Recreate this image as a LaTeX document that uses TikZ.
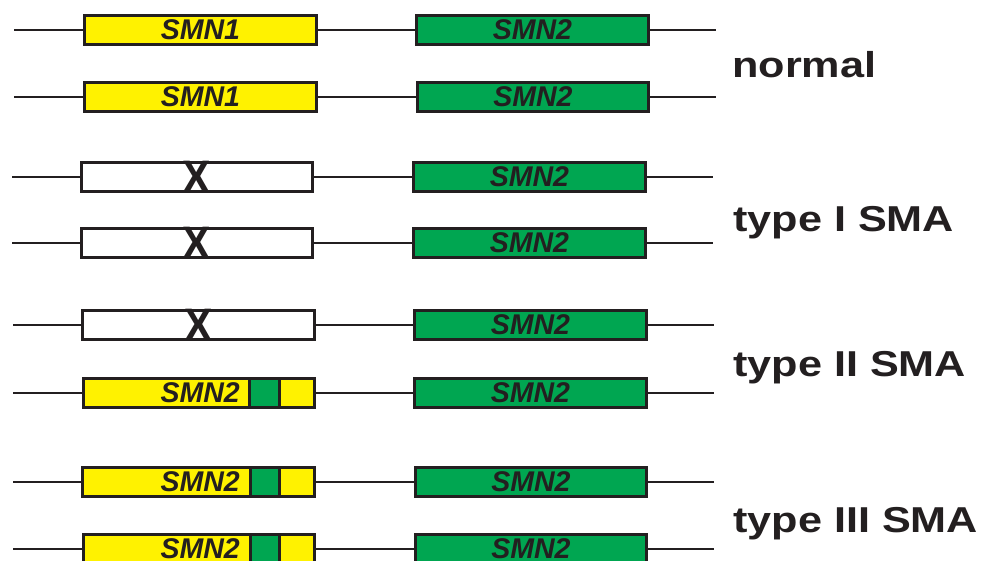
\documentclass[tikz,border=0pt]{standalone}
\usepackage{fontspec}
\setmainfont{Liberation Sans}
\definecolor{geneyellow}{HTML}{FFF200}
\definecolor{genegreen}{HTML}{00A651}
\definecolor{ink}{HTML}{231F20}
\begin{document}
\begin{tikzpicture}[x=1pt,y=-1pt,
  gene/.style={draw=ink,line width=2.8pt,inner sep=0pt,outer sep=0pt,minimum height=29.5pt},
  yellowgene/.style={gene,fill=geneyellow},
  greengene/.style={gene,fill=genegreen},
  deleted/.style={gene,fill=white},
  exonseven/.style={draw=ink,line width=2.8pt,fill=genegreen,inner sep=0pt,minimum height=29.5pt,minimum width=29.5pt},
  genename/.style={text=ink,font=\fontsize{28.5}{28.5}\selectfont\bfseries\itshape,inner sep=0pt},
  xmark/.style={text=ink,font=\fontsize{47}{47}\selectfont\bfseries,inner sep=0pt,xscale=0.9},
  rowlabel/.style={text=ink,font=\fontsize{36}{36}\selectfont\bfseries,inner sep=0pt,anchor=base west,xscale=1.2},
  dna/.style={draw=ink,line width=2.3pt}]
\useasboundingbox (0,0) rectangle (983,561);

% ---------- row 1 (normal)
\coordinate (L1) at (14,30); \coordinate (R1) at (716,30);
\node[yellowgene,minimum width=232pt] (a1) at (200.5,30) {};
\node[greengene,minimum width=232pt] (b1) at (532.5,30) {};
\node[genename] (ta1) at (a1.center) {SMN1};
\node[genename] (tb1) at (b1.center) {SMN2};
% ---------- row 2 (normal)
\coordinate (L2) at (14,97); \coordinate (R2) at (716,97);
\node[yellowgene,minimum width=232pt] (a2) at (200.5,97) {};
\node[greengene,minimum width=231pt] (b2) at (533,97) {};
\node[genename] (ta2) at (a2.center) {SMN1};
\node[genename] (tb2) at (b2.center) {SMN2};
% ---------- row 3 (type I)
\coordinate (L3) at (12,177); \coordinate (R3) at (713,177);
\node[deleted,minimum width=231pt] (a3) at (197,177) {};
\node[greengene,minimum width=232pt] (b3) at (529.5,177) {};
\node[xmark] (x3) at (a3.center) {X};
\node[genename] (tb3) at (b3.center) {SMN2};
% ---------- row 4 (type I)
\coordinate (L4) at (12,243); \coordinate (R4) at (713,243);
\node[deleted,minimum width=231pt] (a4) at (197,243) {};
\node[greengene,minimum width=232pt] (b4) at (529.5,243) {};
\node[xmark] (x4) at (a4.center) {X};
\node[genename] (tb4) at (b4.center) {SMN2};
% ---------- row 5 (type II)
\coordinate (L5) at (13,325); \coordinate (R5) at (714,325);
\node[deleted,minimum width=232pt] (a5) at (198.5,325) {};
\node[greengene,minimum width=232pt] (b5) at (530.5,325) {};
\node[xmark] (x5) at (a5.center) {X};
\node[genename] (tb5) at (b5.center) {SMN2};
% ---------- row 6 (type II)
\coordinate (L6) at (13,393); \coordinate (R6) at (714,393);
\node[yellowgene,minimum width=231pt] (a6) at (199,393) {};
\node[exonseven] (e6) at (264.5,393) {};
\node[greengene,minimum width=232pt] (b6) at (530.5,393) {};
\node[genename,anchor=east] (ta6) at (240,393) {SMN2};
\node[genename] (tb6) at (b6.center) {SMN2};
% ---------- row 7 (type III)
\coordinate (L7) at (13,482); \coordinate (R7) at (714,482);
\node[yellowgene,minimum width=232pt] (a7) at (198.5,482) {};
\node[exonseven] (e7) at (265,482) {};
\node[greengene,minimum width=231pt] (b7) at (531,482) {};
\node[genename,anchor=east] (ta7) at (240,482) {SMN2};
\node[genename] (tb7) at (b7.center) {SMN2};
% ---------- row 8 (type III)
\coordinate (L8) at (13,549); \coordinate (R8) at (714,549);
\node[yellowgene,minimum width=231pt] (a8) at (199,549) {};
\node[exonseven] (e8) at (265,549) {};
\node[greengene,minimum width=231pt] (b8) at (531,549) {};
\node[genename,anchor=east] (ta8) at (240,549) {SMN2};
\node[genename] (tb8) at (b8.center) {SMN2};

% ---------- DNA lines
\foreach \r in {1,...,8}{
  \draw[dna] (L\r) -- (a\r.west);
  \draw[dna] (a\r.east) -- (b\r.west);
  \draw[dna] (b\r.east) -- (R\r);
}

% ---------- labels
\node[rowlabel] (lnormal) at (732,78) {normal};
\node[rowlabel] (ltypeI) at (733,232) {type I SMA};
\node[rowlabel] (ltypeII) at (733,377) {type II SMA};
\node[rowlabel] (ltypeIII) at (733,532) {type III SMA};
\end{tikzpicture}
\end{document}
